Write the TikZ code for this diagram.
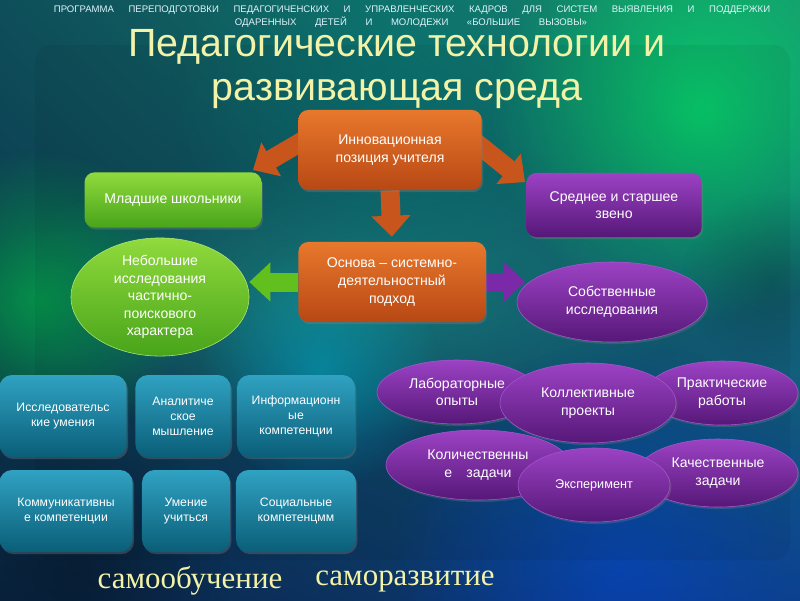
\documentclass[tikz,border=0pt]{standalone}
\usepackage{fontspec}
\setmainfont{Liberation Sans}
\newfontfamily\bottomserif{Liberation Serif}
\usetikzlibrary{arrows.meta,shapes.geometric,shadows,fadings,shadings}
\definecolor{bgUL}{HTML}{0E4E5A}
\definecolor{bgUR}{HTML}{189070}
\definecolor{bgLL}{HTML}{0A2644}
\definecolor{bgLR}{HTML}{0E4084}
\definecolor{ttl}{HTML}{F2F2A8}
\definecolor{orTop}{HTML}{E8782C}
\definecolor{orBot}{HTML}{B84814}
\definecolor{orArr}{HTML}{C8561C}
\definecolor{grTop}{HTML}{90DA3C}
\definecolor{grBot}{HTML}{48A41A}
\definecolor{grArr}{HTML}{62C01E}
\definecolor{puTop}{HTML}{9C42C4}
\definecolor{puBot}{HTML}{561878}
\definecolor{puEdge}{HTML}{A456CC}
\definecolor{puArr}{HTML}{7A2AA8}
\definecolor{tlTop}{HTML}{30A2C2}
\definecolor{tlBot}{HTML}{0A5E78}
\definecolor{band}{HTML}{22A896}
\tikzfading[name=glow,inner color=transparent!0,outer color=transparent!100]
\pgfdeclarelayer{back}
\pgfsetlayers{back,main}
\begin{document}
\begin{tikzpicture}[x=0.025cm,y=-0.025cm,
    every node/.style={text=white,font=\fontsize{10}{12.5}\selectfont,align=center},
    box/.style={rounded corners=7pt,inner sep=2pt,drop shadow={opacity=0.35,shadow xshift=1pt,shadow yshift=-1.5pt}},
    orangebox/.style={box,top color=orTop,bottom color=orBot},
    greenbox/.style={box,top color=grTop,bottom color=grBot},
    purplebox/.style={box,top color=puTop,bottom color=puBot},
    tealbox/.style={box,rounded corners=9pt,top color=tlTop,bottom color=tlBot,font=\fontsize{8.7}{10.7}\selectfont},
    blob/.style={ellipse,inner sep=0pt,draw=puEdge,line width=0.4pt,top color=puTop,bottom color=puBot,drop shadow={opacity=0.3,shadow xshift=1pt,shadow yshift=-1.5pt}},
    hdr/.style={inner sep=0pt,font=\fontsize{6.8}{7}\selectfont,text=white!88!cyan},
    fat/.style={line width=13.5pt,-{Triangle[length=15pt,width=27pt]}}]
    \useasboundingbox (0,0) rectangle (800,600);
    \begin{pgfonlayer}{back}
        \shade[upper left=bgUL,upper right=bgUR,lower left=bgLL,lower right=bgLR] (0,0) rectangle (800,600);
        \fill[band,opacity=0.55,path fading=glow] (330,300) ellipse [x radius=9cm,y radius=3.5cm];
        \foreach \cx/\cy/\r/\c/\o in {400/90/230/teal/0.4, 700/110/210/green!60!cyan/0.6, 40/300/150/green!50!teal/0.6, 320/370/120/cyan!80!green/0.55, 620/570/230/blue!70!cyan/0.4, 770/280/90/black/0.2, 80/570/150/black/0.3} {
            \fill[\c,opacity=\o,path fading=glow] (\cx,\cy) circle (\r);
        }
        \fill[black,opacity=0.05,rounded corners=12pt] (35,45) rectangle (790,560);
    \end{pgfonlayer}

    \node[hdr] (hdra) at (412,10) {\makebox[17.9cm][s]{ПРОГРАММА ПЕРЕПОДГОТОВКИ ПЕДАГОГИЧЕНСКИХ И УПРАВЛЕНЧЕСКИХ КАДРОВ ДЛЯ СИСТЕМ ВЫЯВЛЕНИЯ И ПОДДЕРЖКИ}};
    \node[hdr] (hdrb) at (411,22) {\makebox[8.8cm][s]{ОДАРЕННЫХ ДЕТЕЙ И МОЛОДЕЖИ «БОЛЬШИЕ ВЫЗОВЫ»}};
    \node[font=\fontsize{28}{31}\selectfont,text=ttl] (title) at (397,69) {Педагогические технологии и\\развивающая среда};

    \node[orangebox,minimum width=4.58cm,minimum height=2cm] (inn) at (390,150) {Инновационная\\позиция учителя};
    \node[greenbox,minimum width=4.42cm,minimum height=1.38cm] (mlad) at (173,200) {Младшие школьники};
    \node[purplebox,minimum width=4.38cm,minimum height=1.6cm] (sred) at (614,205) {Среднее и старшее\\звено};
    \node[orangebox,minimum width=4.68cm,minimum height=2cm] (osn) at (392,282) {Основа -- системно-\\деятельностный\\подход};
    \node[ellipse,inner sep=0pt,draw=grTop!70!white,line width=0.4pt,top color=grTop,bottom color=grBot,minimum width=4.45cm,minimum height=2.7cm] (nebol) at (160,297) {Небольшие\\исследования\\частично-\\поискового\\характера};
    \node[blob,minimum width=4.75cm,minimum height=2cm] (sobst) at (612,302) {Собственные\\исследования};

    \node[blob,minimum width=4cm,minimum height=1.6cm] (lab) at (457,392) {Лабораторные\\опыты};
    \node[blob,minimum width=3.8cm,minimum height=1.6cm] (prak) at (722,393) {Практические\\работы};
    \node[blob,minimum width=4.6cm,minimum height=1.75cm] (kolich) at (478,465) {Количественны\\е\quad задачи};
    \node[blob,minimum width=4.4cm,minimum height=2cm] (koll) at (588,403) {Коллективные\\проекты};
    \node[blob,minimum width=4cm,minimum height=1.7cm] (kach) at (718,473) {Качественные\\задачи};
    \node[blob,minimum width=3.8cm,minimum height=1.85cm,font=\fontsize{9}{11}\selectfont] (eksp) at (594,485) {Эксперимент};

    \node[tealbox,minimum width=3.18cm,minimum height=2.05cm] (issl) at (63,416) {Исследовательс\\кие умения};
    \node[tealbox,minimum width=2.38cm,minimum height=2.05cm] (anal) at (183,416) {Аналитиче\\ское\\мышление};
    \node[tealbox,minimum width=2.95cm,minimum height=2.05cm] (inf) at (296,416) {Информационн\\ые\\компетенции};
    \node[tealbox,minimum width=3.33cm,minimum height=2.05cm] (komm) at (66,511) {Коммуникативны\\е компетенции};
    \node[tealbox,minimum width=2.2cm,minimum height=2.05cm] (umen) at (186,511) {Умение\\учиться};
    \node[tealbox,minimum width=3cm,minimum height=2.05cm] (soc) at (296,511) {Социальные\\компетенцмм};

    \node[font=\bottomserif\fontsize{22}{25}\selectfont,text=ttl] (samoob) at (190,581) {самообучение};
    \node[font=\bottomserif\fontsize{22}{25}\selectfont,text=ttl] (samoraz) at (405,581) {саморазвитие};

    \coordinate (tipl) at (253,170);
    \coordinate (tipr) at (525,182);
    \begin{pgfonlayer}{back}
        \draw[fat,orArr] ([xshift=12pt]inn.170) -- (tipl);
        \draw[fat,orArr] ([xshift=-12pt]inn.10) -- (tipr);
        \draw[fat,orArr,shorten >=3.5pt] (inn.south) -- (osn.north);
        \draw[fat,grArr] (osn.west) -- (osn.west -| nebol.east);
        \draw[fat,puArr] (osn.east) -- ([xshift=6pt]osn.east -| sobst.west);
    \end{pgfonlayer}
\end{tikzpicture}
\end{document}
